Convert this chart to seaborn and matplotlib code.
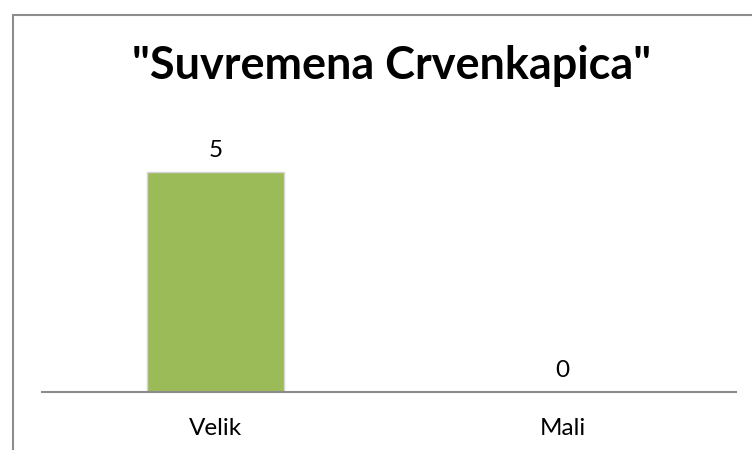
import matplotlib
matplotlib.use("Agg")
import matplotlib.pyplot as plt
import seaborn as sns
from matplotlib.patches import Rectangle

categories = ["Velik", "Mali"]
values = [5, 0]
title = '"Suvremena Crvenkapica"'

sns.set_style("white")
plt.rcParams['font.family'] = ['Lato', 'DejaVu Sans']

fig = plt.figure(figsize=(7.52, 4.5), dpi=100)
ax = fig.add_axes([42/752, 1 - 392/450, (736 - 42)/752, (392 - 128)/450])

sns.barplot(x=categories, y=values, color="#9BBB59", width=0.395, ax=ax,
            edgecolor="#d4d4d4", linewidth=1.0, saturation=1)
ax.bar_label(ax.containers[0], labels=[str(v) for v in values], padding=8,
             fontsize=17.5, color="#000000")

ax.set_ylim(0, 6)
ax.set_xlim(-0.5, 1.5)
ax.set_yticks([])
ax.tick_params(axis='x', length=0, labelsize=17.5, pad=19, colors="#000000")
for s in ["top", "left", "right"]:
    ax.spines[s].set_visible(False)
ax.spines["bottom"].set_color("#8c8c8c")
ax.spines["bottom"].set_linewidth(1.5)

fig.text(392/752, 1 - 66/450, title, ha="center", va="center",
         fontsize=32.4, fontweight="bold", color="#000000")

# outer chart frame
fig.patches.append(Rectangle((13/752, -0.1), 1.0, 1 - 15/450 + 0.1,
                             transform=fig.transFigure, fill=False,
                             edgecolor="#8c8c8c", linewidth=1.5))

fig.savefig("out.png", dpi=100)
